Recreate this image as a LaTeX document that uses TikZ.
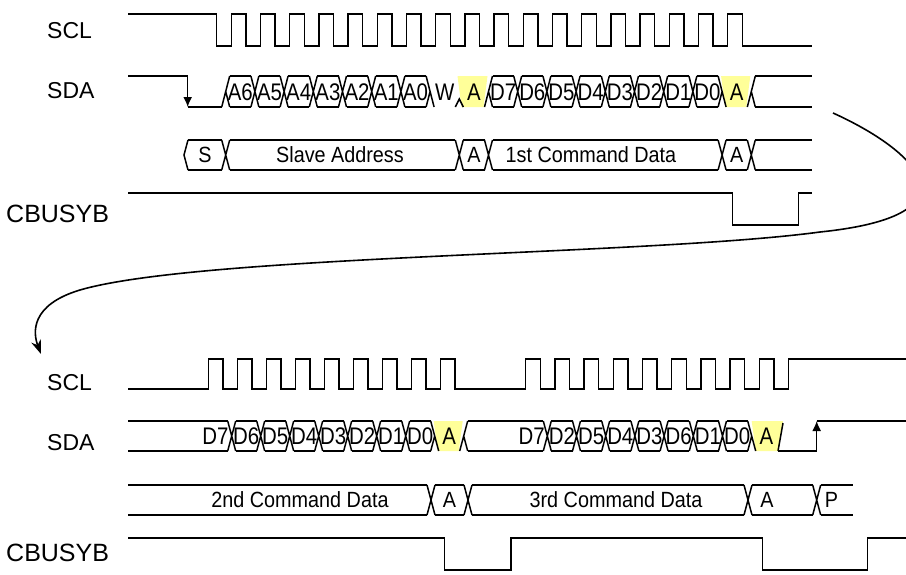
\documentclass[tikz,border=0pt]{standalone}
\usepackage{fontspec}
\setmainfont{Liberation Sans}
\newfontfamily\cellfnt{Liberation Sans}[FakeStretch=0.85]
\newfontfamily\busfnt{Liberation Sans}[FakeStretch=0.9]
\usetikzlibrary{arrows.meta}
\definecolor{ackyellow}{RGB}{255,255,153}
% X crossing at x=#1 between top #2 and bottom #3
\newcommand\sigX[3]{\draw[sig] ({#1-4},{#2}) -- ({#1+4},{#3}) ({#1-4},{#3}) -- ({#1+4},{#2});}
\newcommand\sigXnoUR[3]{\draw[sig] ({#1-4},{#2}) -- ({#1},{(#2+#3)/2}) -- ({#1+4},{#3}) ({#1-4},{#3}) -- ({#1},{(#2+#3)/2});}
\newcommand\sigXnoUL[3]{\draw[sig] ({#1-4},{#3}) -- ({#1+4},{#2}) ({#1},{(#2+#3)/2}) -- ({#1+4},{#3});}
\newcommand\sigBox[4]{\draw[sig] ({#1},{#3}) -- ({#2},{#3}) ({#1},{#4}) -- ({#2},{#4});}
\begin{document}
\begin{tikzpicture}[x=1pt,y=-1pt,
  sig/.style={line width=1.5pt,line join=miter},
  lbl/.style={font=\fontsize{23}{23}\selectfont,inner sep=0pt,anchor=west},
  lblw/.style={font=\fontsize{25}{25}\selectfont,inner sep=0pt,anchor=west},
  bit/.style={font=\cellfnt\fontsize{24}{24}\selectfont,inner sep=0pt},
  bustxt/.style={font=\busfnt\fontsize{22}{22}\selectfont,inner sep=0pt},
  tip/.style={-{Latex[length=10pt,width=9pt]}}]
\useasboundingbox (0,0) rectangle (906,574);
\fill[white] (0,0) rectangle (906,574);

% ---------------- labels
\node[lbl] (lscl1) at (47,31) {SCL};
\node[lbl] (lsda1) at (47,91) {SDA};
\node[lblw] (lcb1) at (6,214) {CBUSYB};
\node[lbl] (lscl2) at (47,383) {SCL};
\node[lbl] (lsda2) at (47,443) {SDA};
\node[lblw] (lcb2) at (6,553) {CBUSYB};

% ---------------- top SCL
\draw[sig] (128,14) -- (216.7,14) -- (216.7,46)
  \foreach \k in {0,...,17} { -- ({216.7+\k*29.2+14.6},46) -- ({216.7+\k*29.2+14.6},14)
     -- ({216.7+(\k+1)*29.2},14) -- ({216.7+(\k+1)*29.2},46) }
  -- (811.7,46);

% ---------------- top SDA
\fill[ackyellow] (457.5,76) -- (487.5,76) -- (483.5,107) -- (461.5,107) -- cycle;
\fill[ackyellow] (721.1,76) -- (750.3,76) -- (746.3,107) -- (725.1,107) -- cycle;
\draw[sig] (128,76) -- (187.7,76);
\draw[sig,tip] (187.7,76) -- (187.7,107);
\draw[sig] (187.7,107) -- (221.7,107);
\sigXnoUL{225.7}{76}{107}
\foreach \k in {1,...,6} {\sigX{225.7+29.2*\k}{76}{107}}
\foreach \k in {0,...,6} {\sigBox{225.7+29.2*\k+4}{225.7+29.2*\k+25.2}{76}{107}}
\sigXnoUR{430.1}{76}{107}
\draw[sig] (455.3,107) -- (459.3,99) -- (463.3,107);
\sigXnoUL{488.5}{76}{107}
\foreach \k in {10,...,16} {\sigX{225.7+29.2*\k}{76}{107}}
\foreach \k in {9,...,16} {\sigBox{225.7+29.2*\k+4}{225.7+29.2*\k+25.2}{76}{107}}
\sigXnoUR{722.1}{76}{107}
\sigXnoUL{751.3}{76}{107}
\sigBox{755.3}{811.7}{76}{107}
\foreach \t [count=\i from 0] in {A6,A5,A4,A3,A2,A1,A0,W,A,D7,D6,D5,D4,D3,D2,D1,D0,A}
  {\node[bit] (ts\i) at ({225.7+29.2*\i+14.6},92) {\t};}

% ---------------- top bus row
\draw[sig] (188,140) -- (184,155) -- (188,170);
\sigBox{188}{221.7}{140}{170}
\sigX{225.7}{140}{170}
\sigBox{229.7}{455.3}{140}{170}
\sigX{459.3}{140}{170}
\sigBox{463.3}{484.5}{140}{170}
\sigX{488.5}{140}{170}
\sigBox{492.5}{718.1}{140}{170}
\sigX{722.1}{140}{170}
\sigBox{726.1}{747.3}{140}{170}
\sigX{751.3}{140}{170}
\sigBox{755.3}{811.7}{140}{170}
\node[bustxt] (tb0) at (205,155) {S};
\node[bustxt] (tb1) at (340,155) {Slave Address};
\node[bustxt] (tb2) at (473.9,155) {A};
\node[bustxt] (tb3) at (591,155) {1st Command Data};
\node[bustxt] (tb4) at (736.7,155) {A};

% ---------------- top CBUSYB
\draw[sig] (128,193) -- (732.7,193) -- (732.7,225) -- (798.3,225) -- (798.3,193) -- (811.7,193);

% ---------------- curved arrow
\coordinate (cs) at (833,113);
\coordinate (ce) at (41,354);
\draw[line width=1.6pt,-{Stealth[length=14pt,width=10pt]}] (cs) .. controls (915,150) and (985,215) .. (820,232)
   .. controls (650,255) and (200,255) .. (80,290) .. controls (30,305) and (33,333) .. (ce);

% ---------------- bottom SCL
\draw[sig] (128,389) -- (208.3,389)
  \foreach \k in {0,...,8} { -- ({208.3+\k*29},389) -- ({208.3+\k*29},359)
     -- ({208.3+\k*29+14.5},359) -- ({208.3+\k*29+14.5},389) }
  -- (525.7,389)
  \foreach \k in {0,...,8} { -- ({525.7+\k*29.2},389) -- ({525.7+\k*29.2},359)
     -- ({525.7+\k*29.2+14.6},359) -- ({525.7+\k*29.2+14.6},389) }
  -- (788.3,389) -- (788.3,359) -- (906,359);

% ---------------- bottom SDA
\fill[ackyellow] (433.7,421) -- (462.7,421) -- (458.7,451) -- (437.7,451) -- cycle;
\fill[ackyellow] (751.7,421) -- (783,421) -- (778,451) -- (755.7,451) -- cycle;
\sigBox{128}{227.7}{421}{451}
\foreach \k in {0,...,6} {\sigX{231.7+29*\k}{421}{451}}
\foreach \k in {0,...,6} {\sigBox{231.7+29*\k+4}{231.7+29*\k+25}{421}{451}}
\sigXnoUR{434.7}{421}{451}
\sigXnoUL{463.7}{421}{451}
\sigBox{467.7}{543.3}{421}{451}
\foreach \k in {0,...,6} {\sigX{547.3+29.2*\k}{421}{451}}
\foreach \k in {0,...,6} {\sigBox{547.3+29.2*\k+4}{547.3+29.2*\k+25.2}{421}{451}}
\sigXnoUR{751.7}{421}{451}
\draw[sig] (778,451) -- (783,423);
\draw[sig] (778,451) -- (816.7,451);
\draw[sig,tip] (816.7,451) -- (816.7,421);
\draw[sig] (816.7,421) -- (906,421);
\node[bit,anchor=east] (bs0) at (228.7,436) {D7};
\foreach \t [count=\i from 0] in {D6,D5,D4,D3,D2,D1,D0,A}
  {\node[bit] (bsa\i) at ({231.7+29*\i+14.5},436) {\t};}
\node[bit,anchor=east] (bs1) at (545,436) {D7};
\foreach \t [count=\i from 0] in {D2,D5,D4,D3,D6,D1,D0,A}
  {\node[bit] (bsb\i) at ({547.3+29.2*\i+14.6},436) {\t};}

% ---------------- bottom bus row
\sigBox{128}{427}{485}{515}
\sigX{431}{485}{515}
\sigBox{435}{464}{485}{515}
\sigX{468}{485}{515}
\sigBox{472}{744}{485}{515}
\sigX{748}{485}{515}
\sigBox{752}{812.7}{485}{515}
\sigX{816.7}{485}{515}
\sigBox{820.7}{853.3}{485}{515}
\node[bustxt] (bb0) at (300,500) {2nd Command Data};
\node[bustxt] (bb1) at (449.5,500) {A};
\node[bustxt] (bb2) at (616,500) {3rd Command Data};
\node[bustxt] (bb3) at (767,500) {A};
\node[bustxt] (bb4) at (831.5,500) {P};

% ---------------- bottom CBUSYB
\draw[sig] (128,538) -- (444.3,538) -- (444.3,570) -- (511,570) -- (511,538) -- (762.3,538)
  -- (762.3,570) -- (867.7,570) -- (867.7,538) -- (906,538);
\end{tikzpicture}
\end{document}
